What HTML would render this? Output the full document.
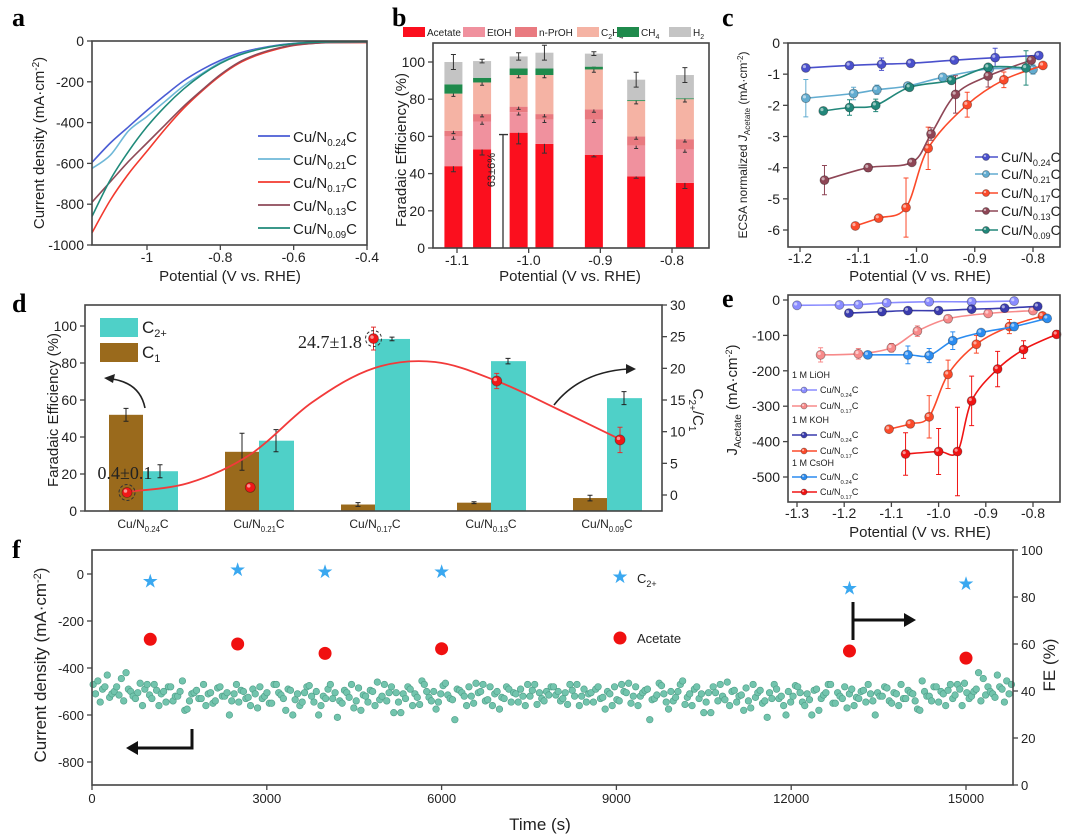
<!DOCTYPE html>
<html><head><meta charset="utf-8"><style>
html,body{margin:0;padding:0;background:#fff;}
svg{display:block;font-family:"Liberation Sans",sans-serif;}
.lt{font-family:"Liberation Serif",serif;font-weight:bold;font-size:26px;}
</style></head><body>
<svg id="fig" width="1080" height="839" viewBox="0 0 1080 839">
<text class="lt" x="12" y="26">a</text>
<text class="lt" x="392" y="26">b</text>
<text class="lt" x="722" y="26">c</text>
<text class="lt" x="12" y="312">d</text>
<text class="lt" x="722" y="307">e</text>
<text class="lt" x="12" y="558">f</text>
</svg>
<script>
// ---------- data ----------
const aV = [-1.15,-1.1,-1.05,-1.0,-0.95,-0.9,-0.85,-0.8,-0.75,-0.7,-0.65,-0.6,-0.55,-0.5,-0.4];
const aJ024 = [-595,-500,-420,-340,-265,-195,-140,-95,-60,-38,-22,-12,-6,-3,-2];
const aJ021 = [-625,-560,-440,-370,-295,-220,-160,-105,-68,-42,-24,-13,-7,-4,-3];
const aJ017 = [-940,-780,-650,-540,-430,-330,-245,-170,-110,-70,-42,-22,-12,-8,-8];
const aJ013 = [-790,-690,-590,-500,-410,-320,-240,-165,-105,-65,-38,-20,-12,-8,-6];
const aJ009 = [-860,-680,-540,-420,-320,-235,-165,-110,-70,-43,-25,-13,-7,-4,-3];
const aXTicks = [-1.0,-0.8,-0.6,-0.4];
const aYTicks = [0,-200,-400,-600,-800,-1000];
const bPot = [-1.105,-1.065,-1.014,-0.978,-0.909,-0.85,-0.782];
const bAcetate = [44,53,62,56,50,38.5,35];
const bEtOH = [16,15,11,13,19,16.5,18];
const bPrOH = [3,4,3,3,5.5,5,5.5];
const bC2H4 = [20,17,17,21,21.5,19,21.5];
const bCH4 = [5,2.5,3.5,3.5,1.5,0.5,0.5];
const bH2 = [12,9,6.5,8.5,7,11,12.5];
const bErrAc = [3,3,6,5,1,1,3];
const bErrTop = [4,1,2,4,1,4,4];
const bXTicks = [-1.1,-1.0,-0.9,-0.8];
const bYTicks = [0,20,40,60,80,100];
const cV024 = [-1.19,-1.115,-1.06,-1.01,-0.935,-0.865,-0.79];
const cJ024 = [-0.8,-0.72,-0.68,-0.65,-0.55,-0.47,-0.4];
const cE024 = [0,0.1,0.2,0,0,0.3,0];
const cV021 = [-1.19,-1.108,-1.068,-1.015,-0.955,-0.875,-0.80];
const cJ021 = [-1.77,-1.62,-1.5,-1.38,-1.1,-0.83,-0.85];
const cE021 = [0.6,0.2,0.15,0,0.1,0.1,0.15];
const cV017 = [-1.105,-1.065,-1.018,-0.98,-0.913,-0.85,-0.783];
const cJ017 = [-5.87,-5.62,-5.28,-3.38,-1.98,-1.18,-0.72];
const cE017 = [0,0,0.95,0.68,0.4,0.25,0];
const cV013 = [-1.158,-1.083,-1.008,-0.975,-0.933,-0.877,-0.803];
const cJ013 = [-4.4,-4.0,-3.83,-2.92,-1.65,-1.06,-0.55];
const cE013 = [0.47,0.12,0,0.2,0.6,0.35,0];
const cV009 = [-1.16,-1.115,-1.07,-1.012,-0.94,-0.877,-0.812];
const cJ009 = [-2.18,-2.07,-2.0,-1.42,-1.2,-0.78,-0.8];
const cE009 = [0,0.25,0.2,0,0,0.1,0.55];
const cXTicks = [-1.2,-1.1,-1.0,-0.9,-0.8];
const cYTicks = [0,-1,-2,-3,-4,-5,-6];
const dCats = ['0.24','0.21','0.17','0.13','0.09'];
const dC1 = [52,32,3.5,4.5,7];
const dC1Err = [3.5,10,1,0.5,1.5];
const dC2 = [21.5,38,93,81,61];
const dC2Err = [3.5,6,1,1.5,3.5];
const dRatio = [0.4,1.2,24.7,18,8.7];
const dRatioErr = [0.1,0.3,1.8,1.2,2];
const dFitIdx = [0,0.5,1,1.5,2,2.5,3,3.5,4];
const dFitVal = [0.5,1.9,6.4,14.6,20,21,18,13.5,8.8];
const dYTicks = [0,20,40,60,80,100];
const dRTicks = [0,5,10,15,20,25,30];
const eVLi24 = [-1.30,-1.21,-1.17,-1.11,-1.02,-0.93,-0.84];
const eJLi24 = [-15,-14,-13,-8,-5,-5,-3];
const eELi24 = [0,0,0,0,0,0,0];
const eVLi17 = [-1.25,-1.17,-1.10,-1.045,-0.98,-0.895,-0.80];
const eJLi17 = [-155,-152,-135,-88,-53,-38,-30];
const eELi17 = [20,15,12,15,10,5,3];
const eVK24 = [-1.19,-1.12,-1.065,-1.0,-0.93,-0.86,-0.79];
const eJK24 = [-37,-33,-30,-30,-26,-23,-18];
const eEK24 = [0,0,0,0,0,0,0];
const eVK17 = [-1.105,-1.06,-1.02,-0.98,-0.92,-0.85,-0.78];
const eJK17 = [-365,-350,-330,-210,-125,-75,-45];
const eEK17 = [0,0,60,40,25,20,5];
const eVCs24 = [-1.15,-1.065,-1.02,-0.97,-0.91,-0.84,-0.77];
const eJCs24 = [-155,-155,-157,-115,-92,-75,-52];
const eECs24 = [0,25,20,25,5,10,5];
const eVCs17 = [-1.07,-1.0,-0.96,-0.93,-0.875,-0.82,-0.75];
const eJCs17 = [-435,-428,-428,-285,-195,-140,-97];
const eECs17 = [60,65,125,70,50,25,10];
const eXTicks = [-1.3,-1.2,-1.1,-1.0,-0.9,-0.8];
const eYTicks = [0,-100,-200,-300,-400,-500];
const fTimes = [1000,2500,4000,6000,13000,15000];
const fC2 = [87,92,91,91,84,86];
const fAcetate = [62,60,56,58,57,54];
const fNoise = [-470,-455,-490,-430,-510,-480,-445,-420,-500,-530,-465,-490,-515,-470,-560,-500,-480,-540,-520,-455,-575,-510,-495,-530,-560,-505,-540,-480,-520,-600,-510,-545,-500,-525,-490,-570,-530,-505,-550,-470,-515,-580,-495,-535,-560,-505,-475,-545,-600,-520,-490,-530,-610,-550,-505,-470,-540,-580,-520,-495,-560,-535,-470,-505,-590,-545,-510,-480,-560,-525,-455,-500,-540,-575,-510,-465,-530,-620,-495,-520,-480,-550,-505,-470,-535,-560,-500,-525,-480,-545,-510,-490,-560,-520,-470,-505,-540,-515,-480,-500,-530,-555,-495,-470,-520,-545,-505,-490,-530,-575,-510,-480,-540,-500,-465,-520,-560,-505,-490,-535,-515,-475,-545,-500,-525,-470,-555,-510,-490,-530,-590,-505,-480,-540,-520,-460,-500,-545,-515,-485,-570,-525,-495,-540,-505,-470,-530,-560,-500,-520,-480,-545,-510,-600,-490,-530,-505,-470,-550,-520,-480,-510,-560,-530,-495,-470,-540,-505,-520,-485,-550,-510,-470,-530,-505,-540,-580,-500,-520,-480,-545,-510,-495,-530,-470,-560,-505,-520,-490,-540,-515,-500,-525,-480,-545,-510];
const fXTicks = [0,3000,6000,9000,12000,15000];
const fLTicks = [0,-200,-400,-600,-800];
const fRTicks = [0,20,40,60,80,100];

// ---------- helpers ----------
const NS='http://www.w3.org/2000/svg';
const svg=document.getElementById('fig');
function mk(tag,a,parent){const e=document.createElementNS(NS,tag);for(const k in a)e.setAttribute(k,a[k]);(parent||svg).appendChild(e);return e;}
function lin(d0,d1,r0,r1){return v=>r0+(v-d0)*(r1-r0)/(d1-d0);}
function smooth(p){let d='M'+p[0][0]+','+p[0][1];for(let i=0;i<p.length-1;i++){const p0=p[i-1]||p[i],p1=p[i],p2=p[i+1],p3=p[i+2]||p2;d+=' C'+(p1[0]+(p2[0]-p0[0])/6)+','+(p1[1]+(p2[1]-p0[1])/6)+' '+(p2[0]-(p3[0]-p1[0])/6)+','+(p2[1]-(p3[1]-p1[1])/6)+' '+p2[0]+','+p2[1];}return d;}
function txt(x,y,s,size,anchor,name,rot,fam){const t=mk('text',{x:x,y:y,'font-size':size,'text-anchor':anchor||'middle',fill:'#222'});if(fam)t.setAttribute('font-family',fam);if(rot)t.setAttribute('transform','rotate('+rot+' '+x+' '+y+')');t.innerHTML=s;


return t;}
function frame(x0,y0,x1,y1,name){const r=mk('rect',{x:x0,y:y0,width:x1-x0,height:y1-y0,fill:'none',stroke:'#444','stroke-width':1.6});

}
function xticks(vals,sx,y,labelY,size,name,f){vals.forEach(v=>{const l=mk('line',{x1:sx(v),x2:sx(v),y1:y,y2:y+5,stroke:'#444','stroke-width':1.3});


txt(sx(v),labelY,f?f(v):String(v),size,'middle',name+'-label');});}
function yticks(vals,sy,x,side,size,name,f){vals.forEach(v=>{const l=mk('line',{x1:x,x2:x+(side<0?-5:5),y1:sy(v),y2:sy(v),stroke:'#444','stroke-width':1.3});


txt(x+(side<0?-8:8),sy(v)+5,f?f(v):String(v),size,side<0?'end':'start',name+'-label');});}
const sub=(s)=>'<tspan dy="4" font-size="0.65em">'+s+'</tspan><tspan dy="-4">C</tspan>';
const cuLabel=(s)=>'Cu/N'+sub(s);
function marker(x,y,r,fill,name){const c=mk('circle',{cx:x,cy:y,r:r,fill:fill,stroke:'rgba(0,0,0,0.35)','stroke-width':0.8});


const h=mk('circle',{cx:x-r*0.3,cy:y-r*0.3,r:r*0.35,fill:'rgba(255,255,255,0.55)'});

}
function errbar(x,y0,y1,color,name,w){const l=mk('path',{d:'M'+x+','+y0+'V'+y1+'M'+(x-(w||3))+','+y0+'h'+2*(w||3)+'M'+(x-(w||3))+','+y1+'h'+2*(w||3),stroke:color,'stroke-width':1,fill:'none'});

}

// ---------- panel a ----------
const xa=lin(-1.15,-0.4,92,367), ya=lin(0,-1000,41,245);
const aSeries=[[aJ024,'#4a5cd4','0.24'],[aJ021,'#6fb8d8','0.21'],[aJ017,'#f2392e','0.17'],[aJ013,'#8e4a58','0.13'],[aJ009,'#1f8a7a','0.09']];
aSeries.forEach(([J,c,n],k)=>{const p=mk('path',{d:smooth(aV.map((v,i)=>[xa(v),ya(J[i])])),stroke:c,'stroke-width':1.6,fill:'none'});


const ly=136+k*23;const l=mk('line',{x1:258,x2:290,y1:ly,y2:ly,stroke:c,'stroke-width':1.8});


txt(293,ly+6,cuLabel(n),15,'start','legend-entry-'+n);});
frame(92,41,367,245,'panel-a-frame');
xticks(aXTicks,xa,245,262,14,'a-x');
yticks(aYTicks,ya,92,-1,14,'a-y');
txt(230,281,'Potential (V vs. RHE)',15,'middle','a-x-axis-title');
txt(44,143,'Current density (mA·cm<tspan dy="-5" font-size="10">-2</tspan><tspan dy="5">)</tspan>',15,'middle','a-y-axis-title',-90);

// ---------- panel b ----------
const xb=lin(-1.1,-0.8,457,672), yb=lin(0,100,248,62);
const bStacks=[[bAcetate,'#fb0f1e','Acetate'],[bEtOH,'#f0919e','EtOH'],[bPrOH,'#e97a80','n-PrOH'],[bC2H4,'#f5b3a4','C<tspan dy="3" font-size="7">2</tspan><tspan dy="-3">H</tspan><tspan dy="3" font-size="7">4</tspan>'],[bCH4,'#1f8a4c','CH<tspan dy="3" font-size="7">4</tspan>'],[bH2,'#c4c4c4','H<tspan dy="3" font-size="7">2</tspan>']];
bPot.forEach((v,i)=>{let base=0;bStacks.forEach(([arr,c,n],k)=>{const r=mk('rect',{x:xb(v)-9,y:yb(base+arr[i]),width:18,height:yb(base)-yb(base+arr[i]),fill:c});


base+=arr[i];
if(k==0)errbar(xb(v),yb(base-bErrAc[i]),yb(base+bErrAc[i]),'#333','b-errorbar',2.5);
else if(k==5)errbar(xb(v),yb(base-bErrTop[i]),yb(base+bErrTop[i]),'#333','b-errorbar',2.5);
else if(k!=4)errbar(xb(v),yb(base-1.5),yb(base+1.5),'#333','b-errorbar',2);});});
const bLegX=[403,463,515,577,617,669];
bStacks.forEach(([a,c,n],k)=>{const r=mk('rect',{x:bLegX[k],y:27,width:22,height:10,fill:c});


txt(bLegX[k]+24,36,n,10,'start','legend-entry-'+k);});
const ann=mk('path',{d:'M503,248V'+yb(61)+'M499,'+yb(61)+'h9',stroke:'#333','stroke-width':1.3,fill:'none'});


txt(495,170,'63±6%',11,'middle','annotation-63',-90);
frame(433,43,709,248,'panel-b-frame');
xticks(bXTicks,xb,248,265,14,'b-x',v=>v.toFixed(1));
yticks(bYTicks,yb,433,-1,14,'b-y');
txt(570,281,'Potential (V vs. RHE)',15,'middle','b-x-axis-title');
txt(406,150,'Faradaic Efficiency (%)',15,'middle','b-y-axis-title',-90);

// ---------- panel c ----------
const xc=lin(-1.2,-0.8,800,1033), yc=lin(0,-6,43,230);
const cSeries=[[cV024,cJ024,cE024,'#4a50cc','0.24'],[cV021,cJ021,cE021,'#62acd0','0.21'],[cV017,cJ017,cE017,'#fb4a2a','0.17'],[cV013,cJ013,cE013,'#8e4656','0.13'],[cV009,cJ009,cE009,'#22877a','0.09']];
cSeries.forEach(([V,J,E,c,n],k)=>{const p=mk('path',{d:smooth(V.map((v,i)=>[xc(v),yc(J[i])])),stroke:c,'stroke-width':1.6,fill:'none'});


V.forEach((v,i)=>{if(E[i]>0)errbar(xc(v),yc(J[i]-E[i]),yc(J[i]+E[i]),c,'c-errorbar',2.5);marker(xc(v),yc(J[i]),4.5,c,'c-point-'+n);});
const ly=[157,174,193,211,230][k];const l=mk('line',{x1:975,x2:998,y1:ly,y2:ly,stroke:c,'stroke-width':1.6});


marker(986,ly,3.5,c,'c-legend-marker-'+n);
txt(1001,ly+5,cuLabel(n),14,'start','c-legend-entry-'+n);});
frame(788,43,1060,247,'panel-c-frame');
xticks(cXTicks,xc,247,263,14,'c-x',v=>v.toFixed(1));
yticks(cYTicks,yc,788,-1,14,'c-y');
txt(920,281,'Potential (V vs. RHE)',15,'middle','c-x-axis-title');
txt(747,145,'ECSA normalized <tspan font-style="italic">J</tspan><tspan dy="3" font-size="8">Acetate</tspan><tspan dy="-3"> (mA·cm</tspan><tspan dy="-4" font-size="8">-2</tspan><tspan dy="4">)</tspan>',12,'middle','c-y-axis-title',-90);

// ---------- panel d ----------
const yl=lin(0,100,511,326), yr=lin(0,30,495,305), xcat=lin(0,4,143,607), xrat=lin(0,4,127,620);
dCats.forEach((n,i)=>{const x=xcat(i);
const b1=mk('rect',{x:x-34,y:yl(dC1[i]),width:34,height:511-yl(dC1[i]),fill:'#9a6a1c'});


const b2=mk('rect',{x:x,y:yl(dC2[i]),width:35,height:511-yl(dC2[i]),fill:'#4fd0c8'});


errbar(x-17,yl(dC1[i]-dC1Err[i]),yl(dC1[i]+dC1Err[i]),'#222','d-errorbar',2.5);
errbar(x+17,yl(dC2[i]-dC2Err[i]),yl(dC2[i]+dC2Err[i]),'#222','d-errorbar',2.5);
txt(x,528,cuLabel(n),12,'middle','d-category-'+n);});
const fit=mk('path',{d:smooth(dFitIdx.map((v,i)=>[xrat(v),yr(dFitVal[i])])),stroke:'#f23a3a','stroke-width':1.8,fill:'none'});


dRatio.forEach((v,i)=>{errbar(xrat(i),yr(v-dRatioErr[i]),yr(v+dRatioErr[i]),'#e03030','ratio-errorbar',2.5);marker(xrat(i),yr(v),5,'#f01818','ratio-point');});
[[0,'ann-circle-low'],[2,'ann-circle-high']].forEach(([i,n])=>{const c=mk('circle',{cx:xrat(i),cy:yr(dRatio[i]),r:8,fill:'none',stroke:'#333','stroke-dasharray':'3,2','stroke-width':1});

});
txt(330,348,'24.7±1.8',18,'middle','annotation-max','', '"Liberation Serif",serif');
txt(125,479,'0.4±0.1',18,'middle','annotation-min','', '"Liberation Serif",serif');
const lg1=mk('rect',{x:100,y:318,width:38,height:19,fill:'#4fd0c8'});


const lg2=mk('rect',{x:100,y:343,width:38,height:19,fill:'#9a6a1c'});


txt(142,333,'C<tspan dy="4" font-size="11">2+</tspan>',17,'start','legend-entry-c2');
txt(142,358,'C<tspan dy="4" font-size="11">1</tspan>',17,'start','legend-entry-c1');
const arw=mk('path',{d:'M145,408 Q140,383 112,379 M554,405 Q580,372 628,369',stroke:'#222','stroke-width':1.6,fill:'none'});


const ah=mk('path',{d:'M104,378 l11,-4 l-2,9 z M636,369 l-10,-5 l0,10 z',fill:'#222'});


frame(85,305,662,511,'panel-d-frame');
yticks(dYTicks,yl,85,-1,14,'d-y-left');
yticks(dRTicks,yr,662,1,14,'d-y-right');
txt(58,410,'Faradaic Efficiency (%)',15,'middle','d-y-axis-title',-90);
txt(693,410,'C<tspan dy="4" font-size="10">2+</tspan><tspan dy="-4">/C</tspan><tspan dy="4" font-size="10">1</tspan>',15,'middle','d-right-axis-title',90);

// ---------- panel e ----------
const xe=lin(-1.3,-0.8,797,1033), ye=lin(0,-500,300,477);
const eSeries=[[eVLi24,eJLi24,eELi24,'#8a8cff','li-024'],[eVLi17,eJLi17,eELi17,'#f78a8a','li-017'],[eVK24,eJK24,eEK24,'#3a3cae','k-024'],[eVK17,eJK17,eEK17,'#fb4a2a','k-017'],[eVCs24,eJCs24,eECs24,'#2b8cf0','cs-024'],[eVCs17,eJCs17,eECs17,'#f01414','cs-017']];
eSeries.forEach(([V,J,E,c,n])=>{const p=mk('path',{d:smooth(V.map((v,i)=>[xe(v),ye(J[i])])),stroke:c,'stroke-width':1.6,fill:'none'});


V.forEach((v,i)=>{if(E[i]>0)errbar(xe(v),ye(J[i]-E[i]),ye(J[i]+E[i]),c,'e-errorbar',2.5);marker(xe(v),ye(J[i]),4.5,c,'e-point-'+n);});});
const eLeg=[['1 M LiOH',375,null],['',390,0],['',406,1],['1 M KOH',420,null],['',435,2],['',451,3],['1 M CsOH',463,null],['',477,4],['',492,5]];
eLeg.forEach(([t,y,k])=>{if(k===null){txt(792,y+3,t,9,'start','e-legend-group');return;}
const s=eSeries[k];const l=mk('line',{x1:792,x2:817,y1:y,y2:y,stroke:s[3],'stroke-width':1.5});


marker(804,y,3,s[3],'e-legend-marker');
txt(820,y+3,cuLabel(k%2?'0.17':'0.24'),9,'start','e-legend-entry');});
frame(788,295,1060,502,'panel-e-frame');
xticks(eXTicks,xe,502,518,14,'e-x',v=>v.toFixed(1));
yticks(eYTicks,ye,788,-1,14,'e-y');
txt(920,537,'Potential (V vs. RHE)',15,'middle','e-x-axis-title');
txt(737,400,'J<tspan dy="4" font-size="10">Acetate</tspan><tspan dy="-4"> (mA·cm</tspan><tspan dy="-5" font-size="9">-2</tspan><tspan dy="5">)</tspan>',15,'middle','e-y-axis-title',-90);

// ---------- panel f ----------
const xf=lin(0,15000,92,966), yfl=lin(0,-800,574,762), yfr=lin(0,100,785,550);
const step=15800/fNoise.length;
fNoise.forEach((v,i)=>{const c=mk('circle',{cx:xf(i*step+step*0.25),cy:yfl(v),r:3.3,fill:'#72c4ad',stroke:'#4f9f88','stroke-width':0.6});


const c2=mk('circle',{cx:xf(i*step+step*0.75),cy:yfl(fNoise[fNoise.length-1-i]),r:3.3,fill:'#72c4ad',stroke:'#4f9f88','stroke-width':0.6});

});
fTimes.forEach((t,i)=>{const s=mk('text',{x:xf(t),y:yfr(fC2[i])+7,'font-size':19,'text-anchor':'middle',fill:'#3aa8f0'});s.textContent='★';


const c=mk('circle',{cx:xf(t),cy:yfr(fAcetate[i]),r:6.5,fill:'#f01010'});

});
const ls=mk('text',{x:620,y:583,'font-size':19,'text-anchor':'middle',fill:'#3aa8f0'});ls.textContent='★';


txt(637,583,'C<tspan dy="4" font-size="9">2+</tspan>',13,'start','legend-entry-c2plus');
const lc=mk('circle',{cx:620,cy:638,r:6.5,fill:'#f01010'});


txt(637,643,'Acetate',13,'start','legend-entry-acetate');
const fa=mk('path',{d:'M192,729V748H136 M853,602V640 M853,620H905',stroke:'#111','stroke-width':3,fill:'none'});


const fah=mk('path',{d:'M126,748 l12,-7 v14 z M916,620 l-12,-7 v14 z',fill:'#111'});


frame(92,550,1013,785,'panel-f-frame');
xticks(fXTicks,xf,785,803,13,'f-x');
yticks(fLTicks,yfl,92,-1,13,'f-y-left');
yticks(fRTicks,yfr,1013,1,13,'f-y-right');
txt(540,830,'Time (s)',17,'middle','f-x-axis-title');
txt(46,665,'Current density (mA·cm<tspan dy="-5" font-size="11">-2</tspan><tspan dy="5">)</tspan>',17,'middle','f-y-axis-title',-90);
txt(1055,665,'FE (%)',17,'middle','f-right-axis-title',-90);
</script>
</body></html>
